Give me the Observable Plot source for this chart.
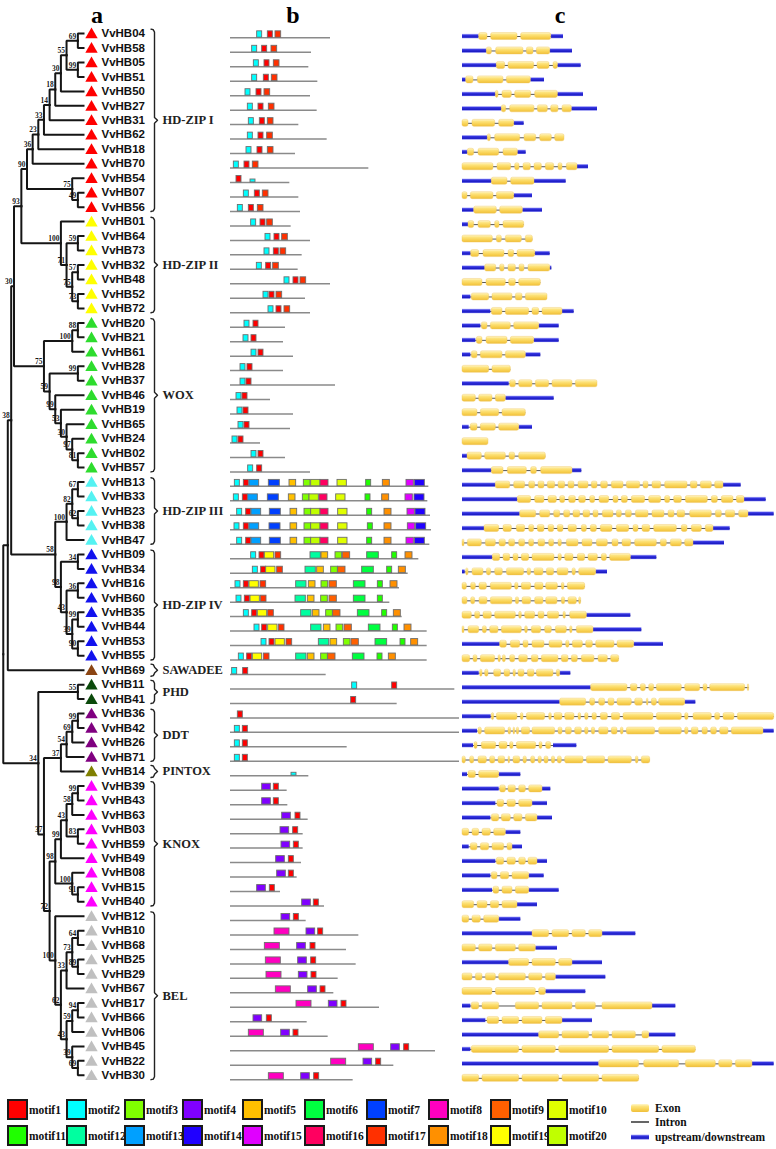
<!DOCTYPE html>
<html><head><meta charset="utf-8">
<script src="https://cdn.jsdelivr.net/npm/d3@7"></script>
<script src="https://cdn.jsdelivr.net/npm/@observablehq/plot@0.6"></script>
<style>
html,body{margin:0;padding:0;background:#fff;}
#fig{position:relative;width:776px;height:1149px;overflow:hidden;background:#fff;}
#fig svg.pnl{position:absolute;top:0;}
.ttl{position:absolute;top:3px;font:bold 24px/24px "Liberation Serif","Times New Roman",serif;transform:translateX(-50%);color:#000;}
.lg{position:absolute;display:flex;align-items:center;font:bold 11.5px "Liberation Serif","Times New Roman",serif;color:#111;white-space:nowrap;}
.sw{width:21px;height:21px;box-sizing:border-box;border:2px solid #1a1a1a;margin-right:1px;}
</style></head><body><div id="fig"></div>
<script>
// ---------------- data ----------------
const geneIds = ["04","58","05","51","50","27","31","62","18","70","54","07","56",
 "01","64","73","32","48","52","72",
 "20","21","61","28","37","46","19","65","24","02","57",
 "13","33","23","38","47",
 "09","34","16","60","35","44","53","55",
 "69","11","41","36","42","26","71","14",
 "39","43","63","03","59","49","08","15","40",
 "12","10","68","25","29","67","17","66","06","45","22","30"];
const groupNames = ["HD-ZIP I","HD-ZIP II","WOX","HD-ZIP III","HD-ZIP IV","SAWADEE","PHD","DDT","PINTOX","KNOX","BEL"];
const groupSizes = [13,7,11,5,8,1,2,4,1,9,12];
const groupColors = ["#ff0000","#ffff00","#2edc2e","#55f2f2","#1212ee","#8b4513","#0b4a0b","#800080","#808000","#ff00ff","#c0c0c0"];

// internal nodes: [id, childA, childB, rank (levels from tips), bootstrap]
const treeNodes = [
 ["A1","04","58",1,69],["A2","05","51",1,99],["A3","A1","A2",3,55],["A4","A3","50",4,30],
 ["A5","A4","27",5,18],["A6","A5","31",6,14],["A7","A6","62",7,33],["A8","A7","18",8,23],
 ["A9","A8","70",9,36],["A10","07","56",1,49],["A11","54","A10",2,75],["A12","A9","A11",10,90],
 ["B1","64","73",1,59],["B2","32","48",1,57],["B3","52","72",1,73],["B4","B2","B3",2,75],
 ["B5","B1","B4",3,71],["B6","01","B5",4,100],["AB","A12","B6",11,93],
 ["C1","20","21",1,88],["C2","C1","61",2,100],["C3","28","37",1,99],["C4","02","57",1,81],
 ["C5","24","C4",2,97],["C6","65","C5",3,30],["C7","19","C6",4,53],["C8","46","C7",5,99],
 ["C9","C3","C8",6,59],["C10","C2","C9",7,75],["ABC","AB","C10",12.3,30],
 ["D1","13","33",1,67],["D2","23","38",1,62],["D3","D1","D2",2,82],["D4","D3","47",3,100],
 ["E1","09","34",1,34],["E2","16","60",1,36],["E3","35","44",1,99],["E4","53","55",1,90],
 ["E5","E3","E4",2,39],["E6","E2","E5",3,43],["E7","E1","E6",4,98],["F","D4","E7",5,58],
 ["G","ABC","F",12.8,38],["H","G","69",13.4,""],
 ["P","11","41",1,55],["G1","36","42",1,99],["G2","G1","26",2,69],["G3","G2","71",3,54],["G4","G3","14",4,37],
 ["K1","39","43",1,99],["K2","K1","63",2,58],["K3","03","59",1,83],["K4","K2","K3",3,43],["K5","K4","49",4,99],
 ["K6","15","40",1,91],["K7","08","K6",2,100],["K8","K5","K7",5,98],
 ["L1","10","68",1,64],["L2","25","29",1,89],["L3","L1","L2",2,73],["L4","L3","67",3,33],
 ["L5","17","66",1,94],["L6","L5","06",2,59],["L7","22","30",1,69],["L8","45","L7",2,39],
 ["L9","L6","L8",3,43],["L10","L4","L9",4,62],["L11","12","L10",5,100],
 ["M","K8","L11",6,72],["N","G4","M",7,37],["O","P","N",8,34],["R","H","O",14.2,""]
];

const motifColors = ["#ff0000","#00ffff","#80ff00","#8000ff","#ffc000","#00ff40","#0040ff","#ff00c0","#ff6000","#e0ff00",
 "#20ff00","#00ffa0","#00a0ff","#2000ff","#e000ff","#ff0060","#ff3000","#ff9000","#ffff00","#c0ff00"];
const motifWidths = [15,15,20,26,20,35,33,45,22,28,15,31,29,30,22,24,17,21,28,28];

const proteinLengths = [300,243,235,262,240,260,205,290,195,415,178,205,210,
 182,240,215,203,300,225,240,
 165,159,189,159,315,120,189,180,90,165,240,
 595,592,600,603,598,
 565,533,507,478,515,590,590,590,
 287,673,500,687,687,350,687,235,
 170,172,233,218,218,213,200,150,282,
 227,385,348,377,323,310,447,230,293,615,490,368];

const motifSites = [
 "2:80 1:112 17:135","2:65 1:95 17:123","2:70 1:102 17:130","2:65 1:100 17:124","2:45 1:78 17:102",
 "2:52 1:84 17:115","2:55 1:88 17:112","2:52 1:84 17:110","2:48 1:81 17:112","2:10 1:42 17:67",
 "1:18 2p:60","2:40 1:73 17:97","2:22 1:55 17:82",
 "2:62 1:90 17:110","2:105 1:132 17:155","2:102 1:130 17:150","2:79 1:107 17:128","2:162 1:189 17:210",
 "2:99 1:117 17:138","2:114 1:138 17:162",
 "2:42 1:69","2:39 1:63","2:63 1:84","2:30 1:51","2:30 1:48","2:18 1:36","2:21 1:39","2:24 1:42",
 "2:6 1:24","2:63 1:84","2:53 1:80",
 "2:13 1:40 13:57 7:115 5:177 3:220 20:242 16:270 10:321 11:407 18:457 15:528 14:553",
 "2:10 1:37 13:53 7:112 5:175 3:217 20:237 16:267 10:317 11:405 18:455 15:525 14:552",
 "2:20 1:47 13:63 7:118 5:180 3:222 20:242 16:270 10:323 11:410 18:462 15:531 14:555",
 "2:12 1:40 13:57 7:117 5:180 3:222 20:242 16:270 10:323 11:412 18:462 15:532 14:557",
 "2:20 1:47 13:63 7:118 5:180 3:222 20:242 16:270 10:323 11:410 18:462 15:528 14:553",
 "2:62 1:87 19:103 17:135 12:240 5:273 3:315 9:337 6:410 11:485 18:525",
 "2:67 1:92 19:107 17:140 12:225 5:260 3:302 9:323 6:395 11:470 18:505",
 "2:15 1:40 19:57 17:90 12:197 5:235 3:273 9:297 6:370 11:442 18:480",
 "2:18 1:43 19:60 17:91 12:195 5:232 3:272 9:297 6:370 11:442",
 "2:40 1:65 19:82 17:113 12:212 5:247 3:287 9:308 6:382 11:455 18:490",
 "2:72 1:95 19:113 17:145 12:242 5:280 3:318 9:342 6:415 11:487 18:522",
 "2:93 1:117 19:135 17:168 12:265 5:300 3:340 9:363 6:435 11:510 18:542",
 "2:25 1:50 19:67 17:100 12:197 5:232 3:272 9:293 6:367 11:441 18:475",
 "2:5 1:38","2:365 1:485","1:362","1:22","2:13 1:37","2:13 1:37","2:13 1:37","2p:183",
 "4:95 1:130","4:95 1:130","4:155 1:195","4:150 1:188","4:153 1:190","4:137 1:175","4:140 1:175","4:80 1:118","4:215 1:250",
 "4:153 1:190","8:132 4:228 1:263","8:103 4:200 1:240","8:106 4:203 1:242","8:108 4:205 1:243","8:136 4:233 1:270",
 "8:198 4:295 1:333","4:69 1:109","8:55 4:152 1:189","8:385 4:482 1:521","8:302 4:399 1:437","8:115 4:212 1:251"
];

// gene structures: u = upstream/downstream, e = exon (start-end), introns fill the gaps
const geneStructures = [
 "u0-50 e50-75 e86-165 e176-266 u266-303",
 "u0-73 e73-88 e101-183 e193-213 e223-263 u263-330",
 "u0-103 e103-128 e138-215 e225-261 e273-286 u286-356",
 "u0-11 e11-33 e46-123 e133-205 u205-246",
 "u0-100 e100-108 e120-148 e158-206 e218-286 u286-363",
 "u0-118 e118-131 e143-216 e226-256 e266-288 e300-328 u328-405",
 "e0-18 e30-98 e110-155 u155-185",
 "u0-76 e76-85 e98-173 e186-221 e233-268 e278-306",
 "u0-16 e16-35 e48-110 e123-166 u166-191",
 "e0-93 e105-146 e158-171 e183-205 e216-238 e250-275 e288-300 e313-345 u345-378",
 "u0-88 e88-135 e146-216 u216-311",
 "e0-15 e25-93 e103-155 u155-210",
 "u0-35 e35-103 e113-181 u181-240",
 "u0-18 e18-35 e48-85 e98-111 e123-185",
 "e0-91 e103-118 e130-178 e190-211",
 "u0-26 e26-50 e63-126 e138-155 e165-218 u218-263",
 "u0-68 e68-101 e113-126 e138-160 e171-186 e198-263 u263-268",
 "e0-60 e72-130 e140-160 e170-235",
 "u0-25 e28-80 e90-150 e160-180 e190-255",
 "u0-85 e88-120 e130-200 e210-230 e240-300 u300-335",
 "u0-55 e58-75 e85-145 e155-230 u230-290",
 "u0-40 e43-60 e72-135 e145-215 u215-290",
 "u0-25 e28-45 e55-120 e130-190 u190-235",
 "e0-80 e90-145",
 "u0-140 e143-160 e170-210 e220-260 e270-330 e340-405",
 "e0-40 e50-90 e100-130 u130-275",
 "e0-45 e55-110 e120-190",
 "u0-20 e25-45 e55-100 e110-170 u170-210",
 "e0-78",
 "u0-15 e15-58 e68-130 e141-158 e170-250",
 "u0-88 e88-123 e136-193 e206-223 e236-330 u330-358",
 "u0-100 e100-143 e155-188 e200-218 e228-246 e256-278 e288-308 e318-336 e348-378 e388-405 e416-436 e448-483 e493-533 e543-558 e570-596 e608-675 e685-705 e715-748 e758-783 u783-836",
 "u0-166 e166-206 e218-246 e258-283 e293-308 e320-340 e350-370 e383-398 e411-440 e453-468 e478-496 e508-548 e560-596 e608-623 e635-658 e670-736 e748-766 e778-813 e823-846 u846-911",
 "u0-173 e173-221 e233-263 e275-293 e305-323 e333-353 e363-383 e393-408 e421-453 e463-478 e490-508 e520-558 e570-606 e618-636 e645-668 e683-748 e760-778 e790-818 e830-858 u858-935",
 "u0-66 e66-110 e123-148 e163-188 e200-215 e226-246 e258-275 e286-303 e318-343 e358-373 e385-403 e415-450 e463-500 e513-528 e540-563 e575-643 e658-675 e688-718 e730-753 u753-803",
 "e0-6 e16-58 e70-100 e111-130 e140-158 e170-188 e200-215 e228-248 e260-275 e288-298 e313-348 e360-390 e403-436 e450-468 e480-506 e518-583 e595-613 e625-658 e668-693 u693-786",
 "u0-91 e91-113 e123-143 e153-168 e178-200 e210-276 e288-298 e308-333 e346-368 e378-406 e418-433 e443-505 u505-583",
 "u0-8 e11-18 e30-63 e73-86 e98-121 e133-185 e195-206 e216-243 e253-275 e285-318 e330-340 e350-401 u401-435",
 "e0-13 e26-40 e51-73 e85-148 e158-168 e178-206 e218-243 e251-286 e298-306 e316-368",
 "e0-15 e26-38 e51-75 e85-150 e160-170 e180-206 e218-243 e251-285 e298-308 e318-343 e350-356",
 "e0-28 e38-53 e63-88 e98-160 e170-178 e188-218 e228-246 e256-290 e303-310 e323-373 u373-505",
 "e0-6 e18-50 e61-73 e83-108 e118-178 e188-196 e208-236 e248-268 e280-313 e323-330 e343-393 u393-538",
 "u0-113 e113-133 e145-173 e183-198 e210-246 e261-300 e311-321 e331-361 e371-391 e401-456 e465-515 u515-603",
 "e0-23 e33-45 e55-98 e108-115 e121-130 e143-158 e170-196 e208-228 e238-288 e298-318 e328-346 e358-396 e408-436 e446-470",
 "u0-50 e53-60 e68-78 e95-116 e126-143 e153-160 e168-186 e196-216 e223-273 e283-293 u293-325",
 "u0-386 e386-495 e505-525 e535-550 e560-575 e583-658 e668-713 e723-735 e743-848 e856-860",
 "u0-293 e293-371 e383-398 e410-428 e438-456 e465-508 e518-541 e553-558 e568-583 e590-668 u668-700",
 "u0-86 e88-95 e103-165 e175-183 e193-248 e260-268 e276-300 e308-336 e348-356 e368-378 e390-403 e415-436 e448-473 e483-573 e583-658 e668-678 e693-748 e758-773 e783-816 e826-935",
 "u0-45 e48-58 e68-128 e138-146 e153-158 e163-170 e178-203 e210-278 e288-300 e310-328 e338-358 e368-378 e388-398 e410-438 e448-465 e475-483 e493-578 e590-658 e668-678 e688-708 e720-736 e746-763 e773-798 e808-903 u903-935",
 "u0-33 e36-45 e58-101 e111-135 e143-153 e163-221 e231-240 e251-266 u273-343",
 "e0-10 e23-35 e48-73 e83-98 e108-128 e138-143 e153-173 e183-193 e206-218 e228-238 e246-258 e268-278 e286-298 e308-363 e373-428 e438-508 e520-528 e538-563",
 "u0-15 e18-40 e50-110 u110-175",
 "u0-110 e113-130 e138-160 e170-190 e200-240 u240-265",
 "u0-100 e105-125 e135-160 e170-210 u210-255",
 "u0-85 e88-110 e118-145 e155-180 e190-225 u225-270",
 "e0-20 e30-50 e60-85 e95-130 u130-175",
 "u0-20 e25-45 e55-80 e90-125 e135-150 u150-180",
 "u0-100 e103-125 e135-160 e170-190 e198-225 u225-255",
 "u0-85 e88-105 e115-140 e150-200 u200-245",
 "u0-90 e93-110 e120-150 e160-200 u200-290",
 "e0-35 e45-75 e85-110 e120-165 u165-225",
 "e0-20 e30-55 e65-110 u110-175",
 "u0-210 e210-260 e270-320 e330-370 e380-420 u420-520",
 "e0-40 e50-90 e100-160 e170-220 u220-285",
 "u0-140 e140-200 e210-280 e290-330 u330-420",
 "e0-30 e40-60 e70-100 e110-190 e200-240 e250-280 u280-430",
 "e0-90 e100-220 e230-250 u250-370",
 "u0-25 e28-50 e60-110 e160-230 e240-330 e340-400 e420-570 u570-640",
 "u0-70 e75-110 e120-170 e180-240 e250-300 u300-390",
 "u0-230 e230-290 e300-380 e390-440 e450-520 e540-560 u560-640",
 "u0-25 e28-170 e180-280 e290-440 e450-590 e600-700",
 "u0-410 e410-530 e545-650 e670-760 e770-810 e820-870 u870-935",
 "e0-50 e60-170 e180-290 e300-410 e420-530"
];

// ---------------- layout ----------------
const ROWPX = 14.47, Y0 = 33, H = 1090;
const yScale = {domain: [-Y0/ROWPX, (H-Y0)/ROWPX], range: [0, H], axis: null};
const TIP = 83, STEP = 5.65;
const rk = px => (TIP - px) / STEP;
const noBg = {background: "transparent", overflow: "visible"};
const fig = document.getElementById("fig");

const rows = geneIds.map((id, i) => ({id, name: "VvHB" + id, row: i}));
const groups = [];
let gi = 0;
groupNames.forEach((g, k) => {
  const first = gi, last = gi + groupSizes[k] - 1;
  for (let i = first; i <= last; i++) rows[i].color = groupColors[k];
  groups.push({name: g, first, last, mid: (first + last) / 2});
  gi += groupSizes[k];
});

// tree geometry
const pos = {};
rows.forEach(r => pos[r.id] = {x: 0, y: r.row});
const internal = [], edges = [];
treeNodes.forEach(([id, a, b, rank, bs]) => {
  const A = pos[a], B = pos[b], y = (A.y + B.y) / 2;
  pos[id] = {x: rank, y};
  internal.push({id, x: rank, y, bs: String(bs)});
  edges.push({x1: rank, y1: y, x2: A.x, y2: A.y}, {x1: rank, y1: y, x2: B.x, y2: B.y});
});

// brackets
const brPts = [];
groups.forEach(g => {
  const pad = g.first === g.last ? 0.42 : 0.3;
  const t = g.first - pad, b = g.last + pad, m = (t + b) / 2;
  [[150.5,t],[152.8,t+0.04],[154,t+0.2],[154,m-0.2],[157,m],[154,m+0.2],[154,b-0.2],[152.8,b-0.04],[150.5,b]]
    .forEach(([px, y]) => brPts.push({g: g.name, x: rk(px), y}));
});

const pa = Plot.plot({
  width: 230, height: H, margin: 0, style: noBg,
  x: {domain: [0, 15], range: [TIP, TIP - 15*STEP], axis: null},
  y: yScale, color: {type: "identity"},
  marks: [
    Plot.link(edges, {x1: "x1", y1: "y1", x2: "x2", y2: "y2", curve: "step-before", stroke: "#151515", strokeWidth: 2, strokeLinecap: "square"}),
    Plot.text(internal.filter(d => d.bs), {x: "x", y: "y", text: "bs", dx: -1.5, dy: -4.5, textAnchor: "end", fontSize: 7.5, fontWeight: "bold", fontFamily: "Liberation Serif, Times New Roman, serif", fill: "#111", fillOpacity: 0.98}),
    Plot.dot(rows, {x: () => 0, y: "row", symbol: "triangle", r: 4.6, fill: "color", dx: 8, dy: 1.2}),
    Plot.text(rows, {x: () => 0, y: "row", text: "name", dx: 18, textAnchor: "start", fontSize: 11.5, fontWeight: "bold", fontFamily: "Liberation Sans, Arial, sans-serif", fill: "#111"}),
    Plot.line(brPts, {x: "x", y: "y", z: "g", stroke: "#222", strokeWidth: 1.4}),
    Plot.text(groups, {x: () => rk(162), y: "mid", text: "name", textAnchor: "start", fontSize: 12.5, fontWeight: "bold", fontFamily: "Liberation Serif, Times New Roman, serif", fill: "#222"})
  ]
});
pa.classList.add("pnl"); pa.style.left = "0px";
fig.appendChild(pa);

// motifs
const sites = [];
motifSites.forEach((s, i) => s.split(" ").filter(Boolean).forEach(t => {
  const [m, p] = t.split(":");
  const k = parseInt(m);
  sites.push({row: i, m: k, s: +p, e: +p + motifWidths[k-1], partial: m.endsWith("p"), color: motifColors[k-1]});
}));
const pb = Plot.plot({
  width: 240, height: H, margin: 0, style: noBg,
  x: {domain: [0, 687], range: [5, 234], axis: null},
  y: yScale, color: {type: "identity"},
  marks: [
    Plot.ruleY(rows, {y: "row", x1: () => 0, x2: d => proteinLengths[d.row], stroke: "#8a8a8a", strokeWidth: 1.5, dy: 4.3}),
    Plot.rect(sites, {x1: "s", x2: "e", y1: d => d.row + (d.partial ? 0.09 : -0.15), y2: d => d.row + 0.29, fill: "color", stroke: "#6e6e6e", strokeWidth: 0.9})
  ]
});
pb.classList.add("pnl"); pb.style.left = "225px";
fig.appendChild(pb);

// gene structures
const segs = [], spans = [];
geneStructures.forEach((s, i) => {
  let lo = Infinity, hi = -Infinity;
  s.split(" ").filter(Boolean).forEach(t => {
    const [a, b] = t.slice(1).split("-").map(Number);
    segs.push({row: i, type: t[0], s: a, e: b});
    lo = Math.min(lo, a); hi = Math.max(hi, b);
  });
  spans.push({row: i, s: lo, e: hi});
});
const pc = Plot.plot({
  width: 321, height: H, margin: 0, style: noBg,
  x: {domain: [0, 942], range: [7, 321], axis: null},
  y: yScale,
  marks: [
    Plot.ruleY(spans, {y: "row", x1: "s", x2: "e", stroke: "#555", strokeWidth: 1, dy: 3}),
    Plot.rect(segs.filter(d => d.type === "u"), {x1: "s", x2: "e", y1: d => d.row + 0.055, y2: d => d.row + 0.36, fill: "url(#gBlue)"}),
    Plot.rect(segs.filter(d => d.type === "e"), {x1: "s", x2: "e", y1: d => d.row - 0.035, y2: d => d.row + 0.45, rx: 1.8, fill: "url(#gExon)", stroke: "#efc65a", strokeWidth: 0.4})
  ]
});
pc.classList.add("pnl"); pc.style.left = "455px";
const defs = d3.select(pc).insert("defs", ":first-child");
function grad(id, stops) {
  const g = defs.append("linearGradient").attr("id", id).attr("x1", 0).attr("y1", 0).attr("x2", 0).attr("y2", 1);
  stops.forEach(([o, c]) => g.append("stop").attr("offset", o).attr("stop-color", c));
}
grad("gExon", [[0, "#fff7cc"], [0.3, "#fde37c"], [0.7, "#f8d050"], [1, "#efbf3c"]]);
grad("gBlue", [[0, "#c4c4ff"], [0.3, "#3434e0"], [0.75, "#1c1cc4"], [1, "#6a6aec"]]);
fig.appendChild(pc);

// titles
[["a", 97], ["b", 293], ["c", 560]].forEach(([t, x]) => {
  const d = document.createElement("div"); d.className = "ttl"; d.textContent = t; d.style.left = x + "px"; fig.appendChild(d);
});

// legend
const legX = [7, 66, 124, 182, 242, 304, 366, 428, 490, 547];
motifColors.forEach((c, i) => {
  const d = document.createElement("div"); d.className = "lg";
  d.style.left = legX[i % 10] + "px"; d.style.top = (i < 10 ? 1099 : 1125) + "px";
  d.innerHTML = `<div class="sw" style="background:${c}"></div>motif${i+1}`;
  fig.appendChild(d);
});
const leg2 = [["Exon", "e", 1101], ["Intron", "i", 1115], ["upstream/downstream", "u", 1130]];
leg2.forEach(([t, k, y]) => {
  const d = document.createElement("div"); d.className = "lg";
  d.style.left = "630px"; d.style.top = y + "px";
  let sw;
  if (k === "e") sw = `<svg width="20" height="14"><rect x="1" y="3" width="18" height="8" rx="2" fill="url(#gExon)"/></svg>`;
  else if (k === "i") sw = `<svg width="20" height="14"><line x1="1" x2="19" y1="7" y2="7" stroke="#333" stroke-width="1.5"/></svg>`;
  else sw = `<svg width="20" height="14"><rect x="1" y="4.5" width="18" height="5" fill="url(#gBlue)"/></svg>`;
  d.innerHTML = sw + `<span style="margin-left:5px">${t}</span>`;
  fig.appendChild(d);
});
</script></body></html>
